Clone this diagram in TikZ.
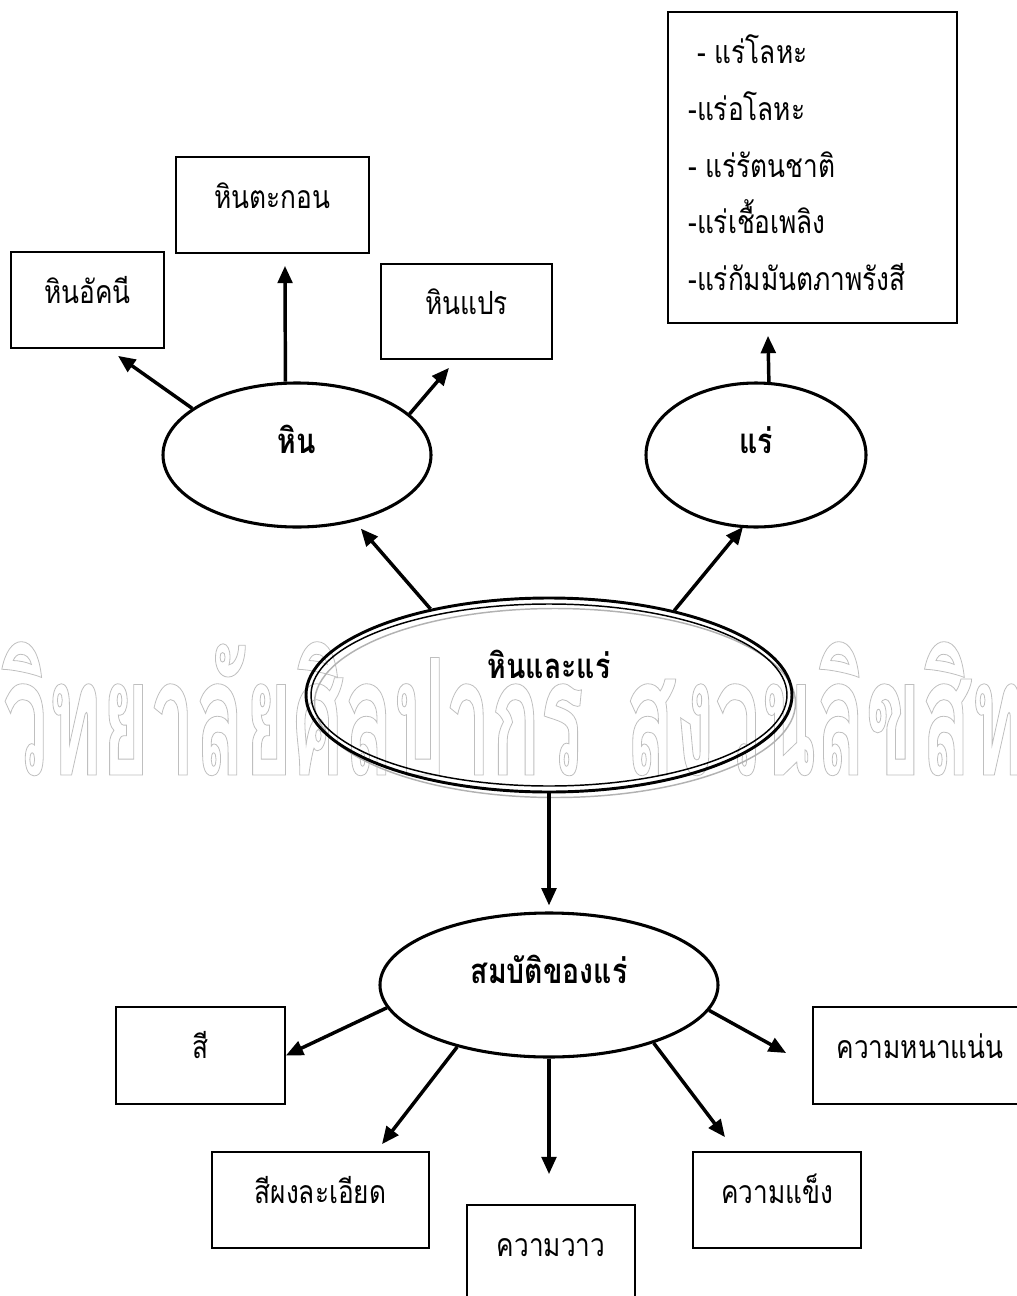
\documentclass[tikz,border=0pt]{standalone}
\usepackage{fontspec}
\usetikzlibrary{arrows.meta,shapes.geometric,calc}
\newfontfamily\thai[Script=Thai,FakeStretch=0.82]{Loma}
\newfontfamily\thaiwm[Script=Thai,FakeStretch=0.5]{Loma}
\newdimen\pu
\pu=0.75pt
\newcommand\outlinetext[1]{\special{pdf:literal direct 1 Tr 0.6 w}#1\special{pdf:literal direct 0 Tr}}
\begin{document}
\begin{tikzpicture}[x=0.75pt,y=-0.75pt,
  lab/.style={font=\thai\fontsize{24pt}{28pt}\selectfont},
  box/.style={lab, draw, line width=1.3pt, rectangle, inner sep=0pt, text height=15pt, text depth=10.5pt},
  oval/.style={draw, ellipse, line width=2.3pt, inner sep=0pt, font=\thai\bfseries\fontsize{26pt}{30pt}\selectfont, text height=15pt, text depth=18pt},
  arr/.style={line width=2.6pt, -{Triangle[length=13pt,width=11pt]}},
  wm/.style={font=\thaiwm\bfseries\fontsize{122pt}{122pt}\selectfont, text=black!25, inner sep=0pt}]
\useasboundingbox (0,0) rectangle (1017,1296);
\clip (0,0) rectangle (1017,1296);
% watermark
\node[wm, anchor=base east] (wml) at (584,775) {\outlinetext{มหาวิทยาลัยศิลปากร}};
\node[wm, anchor=base west] (wmr) at (625,775) {\outlinetext{สงวนลิขสิทธิ์}};
% top boxes
\node[box, minimum width=153\pu, minimum height=96\pu] (ign) at (87.5,300) {หินอัคนี};
\node[box, minimum width=193\pu, minimum height=96\pu] (sed) at (272.5,205) {หินตะกอน};
\node[box, minimum width=171\pu, minimum height=95\pu] (met) at (466.5,311.5) {หินแปร};
\node[draw, line width=1.3pt, rectangle, inner sep=0pt, minimum width=289\pu, minimum height=311\pu] (rbox) at (812.5,167.5) {};
\node[lab, anchor=base west, inner sep=0pt] (r1) at (697,63) {- แร่โลหะ};
\node[lab, anchor=base west, inner sep=0pt] (r2) at (688,120) {-แร่อโลหะ};
\node[lab, anchor=base west, inner sep=0pt] (r3) at (688,177) {- แร่รัตนชาติ};
\node[lab, anchor=base west, inner sep=0pt] (r4) at (688,233) {-แร่เชื้อเพลิง};
\node[lab, anchor=base west, inner sep=0pt] (r5) at (688,290) {-แร่กัมมันตภาพรังสี};
% ellipses
\node[oval, minimum width=268\pu, minimum height=144\pu] (rock) at (297,455) {หิน};
\node[oval, minimum width=220\pu, minimum height=144\pu] (mine) at (756,455) {แร่};
\coordinate (mc) at (549,695);
\draw[black!30, line width=1.1pt] ($(mc)+(6,8)$) ellipse [x radius=240.5\pu, y radius=94.5\pu];
\node[oval, line width=2.2pt, minimum width=486\pu, minimum height=194\pu, text depth=40.5pt] (main) at (mc) {หินและแร่};
\draw[line width=1.1pt] (main.center) ellipse [x radius=238\pu, y radius=91\pu];
\node[oval, minimum width=338\pu, minimum height=144\pu] (prop) at (549,985) {สมบัติของแร่};
% bottom boxes
\node[box, minimum width=169\pu, minimum height=97\pu] (si) at (200.5,1055.5) {สี};
\node[box, minimum width=217\pu, minimum height=96\pu] (sp) at (320.5,1200) {สีผงละเอียด};
\node[box, minimum width=168\pu, minimum height=96\pu] (kv) at (551,1253) {ความวาว};
\node[box, minimum width=168\pu, minimum height=96\pu] (kh) at (777,1200) {ความแข็ง};
\node[box, minimum width=214\pu, minimum height=97\pu] (kd) at (920,1055.5) {ความหนาแน่น};
% arrows
\draw[arr] (rock.156) -- ($(ign.south)+(30.5,7)$);
\draw[arr] (rock.99.5) -- ($(sed.south)+(12.5,12)$);
\draw[arr] (rock.20.6) -- ($(met.south)+(-17.5,8)$);
\draw[arr] (mine.80.5) -- ($(rbox.south)+(-44.5,12)$);
\draw[arr, shorten >=7pt] (main.144) -- (rock);
\draw[arr] (main.34) -- ($(mine.center)+(-13,72)$);
\draw[arr, shorten >=4.5pt] (main) -- (prop);
\draw[arr] (prop.188) -- (si.east);
\draw[arr] (prop.214) -- ($(sp.north)+(61.5,-7)$);
\draw[arr] (prop.south) -- ($(kv.north)+(-2,-30)$);
\draw[arr] (prop.331) -- ($(kh.north)+(-52,-14)$);
\draw[arr] (prop.351) -- ($(kd.west)+(-26,-2.5)$);
\end{tikzpicture}
\end{document}
